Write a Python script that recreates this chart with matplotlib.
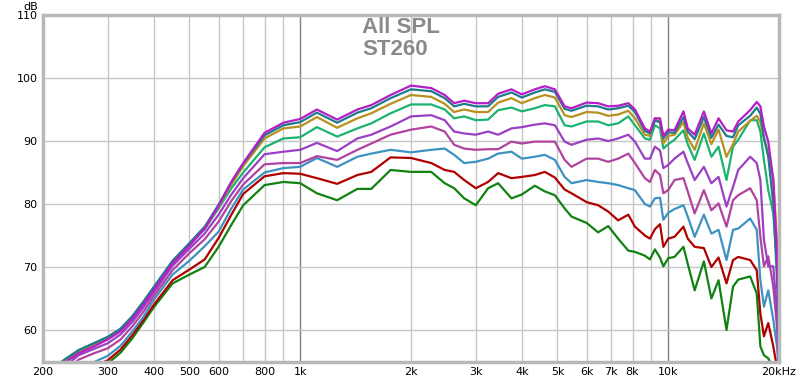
import matplotlib
matplotlib.use("agg")
import matplotlib.pyplot as plt

# frequency points (Hz) shared by all curves
freq = [200, 225, 250, 275, 300, 325, 350, 375, 400, 450, 500, 550, 600, 650, 700,
        800, 900, 1000, 1110, 1260, 1430, 1560, 1760, 2000, 2270, 2470, 2620, 2790,
        3000, 3240, 3450, 3750, 4000, 4340, 4620, 4920, 5230, 5460, 6000, 6450, 6870,
        7310, 7790, 8120, 8640, 8920, 9200, 9500, 9700, 10000, 10400, 11000, 11300,
        11800, 12500, 13100, 13700, 14400, 15000, 15500, 16700, 17400, 17800, 18200,
        18700, 19300, 19750, 20000]

spl_magenta = [52.1, 54.5, 56.3, 57.4, 58.5, 59.8, 61.8, 64.1, 66.4, 70.6, 73.4, 76.1, 79.7, 83.5, 86.5,
               91.3, 92.9, 93.5, 95.0, 93.4, 95.0, 95.7, 97.3, 98.8, 98.4, 97.3, 96.0, 96.4,
               96.0, 96.0, 97.5, 98.2, 97.4, 98.2, 98.7, 98.2, 95.5, 95.2, 96.1, 96.0, 95.5,
               95.6, 96.0, 95.0, 92.0, 91.5, 93.6, 93.6, 90.8, 91.8, 91.7, 94.7, 92.0,
               91.0, 94.7, 91.2, 93.6, 91.7, 91.5, 93.1, 94.9, 96.2, 95.5, 92.3,
               89.9, 83.8, 72.2, 60.0]
spl_teal = [52.6, 55.0, 56.8, 57.9, 58.9, 60.2, 62.2, 64.5, 66.8, 71.0, 73.8, 76.4, 79.9, 83.5, 86.4,
            90.9, 92.5, 93.0, 94.5, 92.9, 94.5, 95.2, 96.8, 98.2, 97.9, 96.8, 95.5, 95.9,
            95.5, 95.5, 97.0, 97.7, 96.9, 97.7, 98.2, 97.8, 95.1, 94.8, 95.6, 95.5, 95.0,
            95.2, 95.6, 94.6, 91.6, 91.2, 93.2, 93.0, 90.4, 91.4, 91.3, 93.8, 91.5,
            90.3, 93.8, 90.5, 92.6, 90.8, 90.6, 92.5, 94.0, 95.3, 94.3, 90.5,
            87.5, 80.0, 68.0, 58.0]
spl_gold = [52.4, 54.8, 56.6, 57.7, 58.6, 59.9, 61.9, 64.2, 66.5, 70.7, 73.5, 76.1, 79.6, 83.1, 86.0,
            90.4, 92.0, 92.3, 93.8, 92.1, 93.6, 94.4, 95.9, 97.3, 97.0, 95.9, 94.6, 95.0,
            94.6, 94.6, 96.1, 96.8, 96.0, 96.8, 97.3, 96.9, 94.1, 93.8, 94.6, 94.5, 94.0,
            94.2, 94.8, 93.6, 91.0, 90.8, 93.6, 93.0, 89.6, 90.8, 91.0, 93.0, 90.5,
            88.6, 92.8, 89.5, 91.8, 87.5, 89.5, 91.5, 93.2, 94.0, 93.0, 90.5,
            88.0, 84.0, 74.0, 64.0]
spl_green = [52.6, 55.0, 56.8, 57.9, 58.9, 60.2, 62.2, 64.5, 66.8, 70.9, 73.6, 76.0, 79.3, 82.5, 85.0,
             89.0, 90.4, 90.6, 92.2, 90.7, 92.0, 92.8, 94.4, 95.8, 95.8, 95.0, 93.6, 93.9,
             93.3, 93.4, 94.9, 95.3, 94.7, 95.2, 95.7, 95.5, 92.5, 92.3, 93.1, 93.1, 92.5,
             92.8, 93.9, 92.5, 90.4, 90.2, 92.5, 92.0, 88.8, 89.5, 90.2, 91.7, 89.5,
             87.0, 91.2, 87.5, 89.1, 83.8, 89.1, 90.2, 93.3, 93.3, 91.5, 87.0,
             82.2, 78.5, 70.6, 62.0]
spl_purple = [51.5, 53.8, 56.0, 57.0, 57.9, 59.3, 61.3, 63.6, 66.0, 70.2, 72.9, 75.3, 78.3, 81.5, 84.1,
              87.9, 88.3, 88.6, 89.7, 88.4, 90.4, 91.0, 92.3, 93.9, 94.1, 93.3, 91.5, 91.2,
              91.0, 91.5, 91.0, 92.0, 92.2, 92.6, 92.8, 92.5, 89.9, 89.4, 90.2, 90.4, 90.0,
              90.4, 91.0, 89.9, 87.2, 87.2, 89.1, 88.5, 85.7, 86.2, 87.2, 88.3, 86.5,
              83.8, 85.9, 83.3, 84.3, 79.6, 82.7, 85.4, 87.5, 86.5, 83.8, 74.3,
              70.1, 70.1, 62.6, 57.4]
spl_pink = [50.5, 52.8, 55.3, 56.3, 57.1, 58.5, 60.6, 62.9, 65.4, 69.5, 72.2, 74.4, 77.2, 80.5, 83.1,
            86.3, 86.5, 86.5, 87.6, 87.0, 88.6, 89.6, 91.0, 91.8, 92.3, 91.5, 89.4, 88.8,
            88.6, 88.7, 88.7, 89.9, 89.6, 89.9, 89.9, 89.9, 87.0, 85.9, 87.2, 87.2, 86.7,
            87.2, 88.0, 86.5, 84.1, 83.5, 85.4, 84.6, 81.7, 82.2, 83.8, 84.1, 82.0,
            78.5, 82.2, 79.0, 80.1, 76.4, 80.6, 81.4, 82.5, 80.6, 74.8, 70.1,
            71.7, 66.9, 60.5, 54.0]
spl_blue = [49.5, 51.5, 53.5, 54.9, 55.9, 57.5, 59.8, 62.1, 64.8, 68.8, 71.0, 73.3, 75.6, 79.3, 82.3,
            85.0, 85.7, 85.9, 87.3, 85.9, 87.5, 88.0, 88.6, 88.2, 88.6, 88.8, 87.8, 86.5,
            86.7, 87.2, 88.0, 88.3, 87.2, 87.5, 87.8, 87.0, 84.3, 83.3, 83.8, 83.5, 83.3,
            83.0, 82.5, 82.2, 80.0, 79.6, 80.9, 81.0, 77.5, 78.6, 79.2, 79.8, 78.0,
            74.8, 78.3, 75.3, 75.9, 71.1, 75.9, 76.1, 77.7, 75.9, 67.9, 63.7,
            66.3, 61.6, 57.4, 53.0]
spl_red = [49.0, 51.0, 52.8, 54.2, 55.2, 56.9, 59.2, 61.6, 64.0, 67.9, 69.6, 71.2, 74.6, 78.3, 81.6,
           84.4, 84.9, 84.8, 84.1, 83.2, 84.6, 85.1, 87.4, 87.3, 86.5, 85.4, 85.1, 83.8,
           82.5, 83.5, 84.9, 84.1, 84.3, 84.6, 85.1, 84.2, 82.3, 81.7, 80.3, 79.8, 78.8,
           77.4, 78.3, 76.4, 75.0, 74.5, 76.0, 76.8, 73.2, 74.5, 74.8, 76.4, 74.5,
           73.2, 73.0, 70.0, 71.5, 67.4, 71.1, 71.6, 71.1, 69.5, 62.6, 59.0,
           61.1, 57.4, 54.0, 52.0]
spl_dkgreen = [48.5, 50.5, 52.3, 53.7, 54.7, 56.4, 58.7, 61.2, 63.6, 67.4, 68.8, 70.0, 73.2, 76.7, 79.8,
               83.0, 83.5, 83.3, 81.7, 80.6, 82.4, 82.4, 85.4, 85.1, 85.1, 83.3, 82.5, 80.9,
               79.8, 82.5, 83.3, 80.9, 81.5, 82.9, 82.0, 81.4, 79.3, 78.0, 77.0, 75.5, 76.5,
               74.5, 72.6, 72.4, 71.8, 71.2, 72.8, 71.5, 70.1, 71.4, 71.6, 73.2, 70.5,
               66.3, 70.9, 65.0, 67.9, 60.0, 66.9, 68.0, 68.5, 65.8, 57.4, 56.0,
               55.5, 54.0, 53.0, 52.0]

# bottom curve first, top curve last
curves = [
    (spl_dkgreen, '#118211'),
    (spl_red, '#b00000'),
    (spl_blue, '#3d92c2'),
    (spl_pink, '#b0439f'),
    (spl_purple, '#9b40c4'),
    (spl_green, '#1cb371'),
    (spl_gold, '#b8901e'),
    (spl_teal, '#1f7a8a'),
    (spl_magenta, '#b41ec8'),
]

xticks = [200, 300, 400, 500, 600, 800, 1000, 2000, 3000, 4000, 5000, 6000, 7000, 8000, 10000, 20000]
xlabels = ['200', '300', '400', '500', '600', '800', '1k', '2k', '3k', '4k', '5k', '6k', '7k', '8k', '10k', '20kHz']
xgrid = [300, 400, 500, 600, 700, 800, 900, 2000, 3000, 4000, 5000, 6000, 7000, 8000, 9000]
yticks = [60, 70, 80, 90, 100, 110]

fig = plt.figure(figsize=(8, 3.82), dpi=100)
ax = fig.add_axes([43 / 800, 20.5 / 382, 736 / 800, 346.5 / 382])

for vals, col in curves:
    ax.plot(freq, vals, color=col, linewidth=1.6, solid_joinstyle='round')

ax.set_xscale('log')
ax.set_xlim(200, 20000)
ax.set_ylim(55, 110)

# grid: light grey, darker at decades
for f in xgrid:
    ax.axvline(f, color='#c6c6c6', linewidth=1, zorder=0)
for f in [1000, 10000]:
    ax.axvline(f, color='#808080', linewidth=1, zorder=0)
for v in yticks:
    ax.axhline(v, color='#c6c6c6', linewidth=1, zorder=0)

ax.set_xticks(xticks)
ax.set_xticklabels(xlabels)
ax.minorticks_off()
ax.set_yticks(yticks)
ax.tick_params(length=0, labelsize=8, pad=4)

for s in ax.spines.values():
    s.set_color('#b8b8b8')
    s.set_linewidth(2.5)

fig.text(31 / 800, 1 - 7 / 382, 'dB', fontsize=8, ha='center', va='center')
fig.text(362 / 800, 1 - 33 / 382, 'All SPL', fontsize=16, fontweight='bold',
         color='#8a8a8a', family='Liberation Sans', ha='left', va='baseline')
fig.text(362 / 800, 1 - 55 / 382, 'ST260', fontsize=16, fontweight='bold',
         color='#8a8a8a', family='Liberation Sans', ha='left', va='baseline')

fig.savefig('out.png', dpi=100)
